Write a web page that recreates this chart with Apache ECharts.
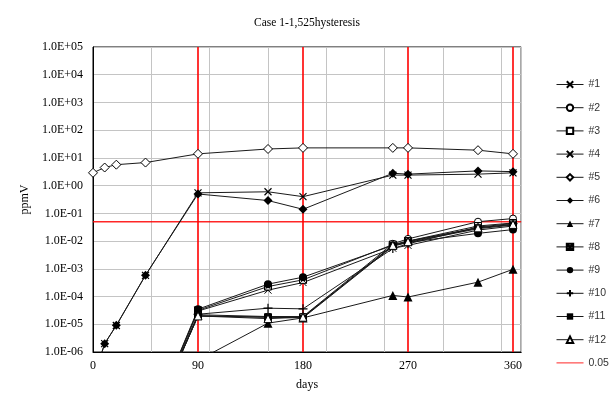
<!DOCTYPE html>
<html><head><meta charset="utf-8">
<script src="https://cdn.jsdelivr.net/npm/echarts@6/dist/echarts.min.js"></script>
<style>html,body{margin:0;padding:0;background:#fff}#c{width:614px;height:407px}</style>
</head><body><div id="c"></div>
<script>
// ---- data ----
const days = [0, 10, 20, 45, 90, 150, 180, 257, 270, 330, 360];
const s1  = [1e-7, 2e-6, 9e-6, 5.8e-4, 0.55, 0.6, 0.4, 2.4, 2.4, 2.6, 2.9];
const s2  = [null, null, null, 1e-9, 2.2e-5, 1.9e-5, 1.9e-5, 8e-3, 1.2e-2, 5e-2, 6.5e-2];
const s3  = [null, null, null, 1e-9, 2e-5, 1.8e-5, 1.8e-5, 7e-3, 1e-2, 3.5e-2, 4.5e-2];
const s4  = [null, null, null, 1e-9, 3e-5, 1.7e-4, 3.2e-4, 5.5e-3, 7e-3, 2.5e-2, 3.5e-2];
const s5  = [2.9, 4.5, 5.7, 6.8, 14, 21, 23, 23, 23, 19, 14];
const s6  = [1e-7, 2e-6, 9.2e-6, 5.9e-4, 0.5, 0.29, 0.14, 2.8, 2.6, 3.4, 3.2];
const s7  = [null, null, null, null, 5e-7, 1.1e-5, 1.7e-5, 1.1e-4, 9.6e-5, 3.3e-4, 9.6e-4];
const s8  = [null, null, null, 1e-9, 3.2e-5, 2.3e-4, 4e-4, 7.5e-3, 1e-2, 3e-2, 4e-2];
const s9  = [null, null, null, 1e-9, 3.5e-5, 2.8e-4, 5e-4, 7e-3, 9e-3, 1.9e-2, 2.6e-2];
const s10 = [null, null, null, 1e-9, 2.3e-5, 3.8e-5, 3.6e-5, 5.4e-3, 8e-3, 3.2e-2, 4.3e-2];
const s11 = [null, null, null, 1e-9, 2e-5, 1.8e-5, 1.7e-5, 6.5e-3, 9e-3, 2.8e-2, 3.8e-2];
const s12 = [null, null, null, 1e-9, 2e-5, 1.6e-5, 1.8e-5, 7e-3, 9.5e-3, 3e-2, 4e-2];
const threshold = 0.05;
const redDays = [90, 180, 270, 360];
const xMin = 0, xMax = 367;
const yMin = 1e-6, yMax = 1e5;
const xTickLabels = [0, 90, 180, 270, 360];

// ---- build ----
const pairs = arr => days.map((d, i) => [d, arr[i]]).filter(p => p[1] != null);
const SYM = {
  x: 'path://M0,0L10,10M10,0L0,10',
  plus: 'path://M5,0L5,10M0,5L10,5',
  boxx: 'path://M0,0L10,0L10,10L0,10ZM0,0L10,10M10,0L0,10'
};
const LINE = '#1a1a1a';
const RED = '#ff0000';
function mk(name, arr, symbol, fill, size, stroke) {
  return {
    name, type: 'line', data: pairs(arr), xAxisIndex: 0,
    symbol, symbolSize: size || 7, showAllSymbol: true,
    lineStyle: { color: LINE, width: 1 },
    itemStyle: { color: fill, borderColor: '#000', borderWidth: stroke == null ? 1 : stroke },
    emphasis: { disabled: true }, z: 3
  };
}
const series = [
  mk('#1', s1, SYM.x, 'transparent', 7, 1.2),
  mk('#2', s2, 'circle', '#fff', 7),
  mk('#3', s3, 'rect', '#fff', 7),
  mk('#4', s4, SYM.x, 'transparent', 7, 1),
  mk('#5', s5, 'diamond', '#fff', 9),
  mk('#6', s6, 'diamond', '#000', 9, 0),
  mk('#7', s7, 'triangle', '#000', 9, 0),
  mk('#8', s8, SYM.boxx, '#fff', 7),
  mk('#9', s9, 'circle', '#000', 8, 0),
  mk('#10', s10, SYM.plus, 'transparent', 9, 1.2),
  mk('#11', s11, 'rect', '#000', 7, 0),
  mk('#12', s12, 'triangle', '#fff', 8),
  {
    name: '0.05', type: 'line', data: [[xMin, threshold], [xMax, threshold]],
    symbol: 'none', lineStyle: { color: RED, width: 1.5, opacity: 0.85 },
    itemStyle: { color: RED }, emphasis: { disabled: true }, z: 2
  }
];
const legendNames = series.map(s => s.name);
// vertical red reference lines (not in legend)
redDays.forEach(d => series.push({
  type: 'line', data: [[d, yMin], [d, yMax]], symbol: 'none', silent: true,
  lineStyle: { color: RED, width: 1.6 }, emphasis: { disabled: true }, z: 2
}));
const fmtE = v => {
  const e = Math.round(Math.log10(v));
  const m = v / Math.pow(10, e);
  return m.toFixed(1) + 'E' + (e < 0 ? '-' : '+') + String(Math.abs(e)).padStart(2, '0');
};
const SERIF = '"Liberation Serif", "Times New Roman", serif';
const legendData = legendNames.map(n => n === '0.05'
  ? { name: n, itemStyle: { color: 'transparent', borderWidth: 0, opacity: 0 } }
  : { name: n });
const gridLeft = 93, pxPerDay = 105 / 90;
const gridRight = 614 - gridLeft - (xMax - xMin) * pxPerDay;
const chart = echarts.init(document.getElementById('c'), null, { renderer: 'canvas' });
chart.setOption({
  animation: false,
  backgroundColor: '#fff',
  title: {
    text: 'Case 1-1,525hysteresis', left: 'center', top: 12,
    textStyle: { fontFamily: SERIF, fontSize: 11.5, fontWeight: 'normal', color: '#000' }
  },
  grid: { left: gridLeft, right: gridRight, top: 47, bottom: 55, show: true, borderColor: '#000', borderWidth: 1 },
  legend: {
    orient: 'vertical', left: 551, top: 74, itemWidth: 27, itemHeight: 8, itemGap: 12.2,
    lineStyle: { width: 1 },
    textStyle: { fontFamily: '"Liberation Sans", Arial, sans-serif', fontSize: 10.5, color: '#333', lineHeight: 11 },
    data: legendData, selectedMode: false
  },
  xAxis: [
    {
      type: 'value', min: xMin, max: xMax, interval: 50,
      axisLine: { show: true, lineStyle: { color: '#000' } }, axisTick: { show: false },
      axisLabel: { show: false }, splitLine: { show: true, lineStyle: { color: '#c4c4c4', width: 1 } }
    },
    {
      type: 'value', min: xMin, max: xMax, interval: 90, position: 'bottom',
      axisLine: { show: false }, axisTick: { show: false }, splitLine: { show: false },
      axisLabel: { show: true, margin: 8, fontFamily: SERIF, fontSize: 12, color: '#000',
        formatter: v => xTickLabels.includes(v) ? String(v) : '' },
      name: 'days', nameLocation: 'middle', nameGap: 27,
      nameTextStyle: { fontFamily: SERIF, fontSize: 12, color: '#000' }
    }
  ],
  yAxis: {
    type: 'log', logBase: 10, min: yMin, max: yMax, interval: 1,
    axisLine: { show: true, lineStyle: { color: '#000' } },
    axisTick: { show: false },
    axisLabel: { margin: 10, fontFamily: SERIF, fontSize: 12, color: '#000', formatter: fmtE },
    splitLine: { show: true, lineStyle: { color: '#c4c4c4', width: 1 } },
    name: 'ppmV', nameLocation: 'middle', nameGap: 54, nameRotate: 90,
    nameTextStyle: { fontFamily: SERIF, fontSize: 12, color: '#000' }
  },
  series
});
</script></body></html>
